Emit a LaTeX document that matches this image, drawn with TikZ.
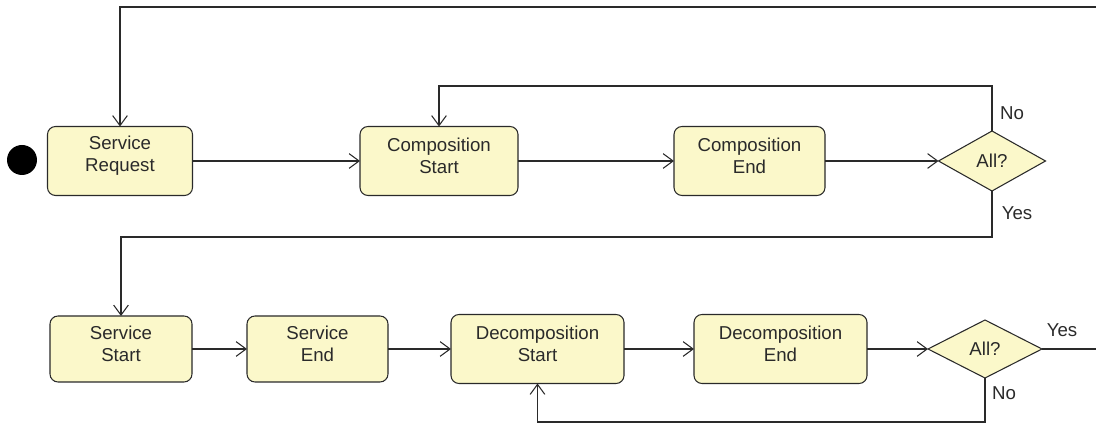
\documentclass[tikz,border=0pt]{standalone}
\usepackage{fontspec}
\setmainfont{Liberation Sans}
\usetikzlibrary{arrows.meta,shapes.geometric}
\definecolor{boxfill}{HTML}{FBF8CA}
\definecolor{ink}{HTML}{2A2A2A}
\begin{document}
\begin{tikzpicture}[x=0.75pt,y=-0.75pt,
  every node/.style={font=\fontsize{14}{16}\selectfont, text=ink},
  state/.style={draw=ink, line width=0.8pt, fill=boxfill, rounded corners=6pt,
    minimum height=51.75pt, inner sep=0pt, outer sep=0pt},
  % the caption of a state sits slightly above the box centre
  caption/.style={label={[align=center, yshift=4pt, inner sep=0pt]center:#1}},
  choice/.style={draw=ink, line width=0.8pt, fill=boxfill, diamond,
    inner sep=0pt, outer sep=0pt},
  flow/.style={draw=ink, line width=0.8pt, -{Straight Barb[length=7.5pt,width=11pt]}},
  plain/.style={draw=ink, line width=0.8pt},
  lbl/.style={inner sep=0pt}]
  \useasboundingbox (0,0) rectangle (1096,423);

  % start marker
  \node[circle, fill=black, minimum size=22.5pt, inner sep=0pt] (init) at (22,160) {};

  % composition row
  \node[state, minimum width=108.75pt, caption={Service\\Request}]   (sreq)   at (120,161)   {};
  \node[state, minimum width=118.5pt,  caption={Composition\\Start}] (cstart) at (439,161)   {};
  \node[state, minimum width=113.25pt, caption={Composition\\End}]   (cend)   at (749.5,161) {};
  \node[choice, minimum width=80.25pt, minimum height=45pt] (d1) at (992,161) {All?};

  % service / decomposition row
  \node[state, minimum width=106.5pt, minimum height=49.5pt, caption={Service\\Start}] (sstart) at (121,349)   {};
  \node[state, minimum width=105.75pt, minimum height=49.5pt, caption={Service\\End}]  (send)   at (317.5,349) {};
  \node[state, minimum width=129.75pt, caption={Decomposition\\Start}] (dstart) at (537.5,349) {};
  \node[state, minimum width=129.75pt, caption={Decomposition\\End}]   (dend)   at (780.5,349) {};
  \node[choice, minimum width=85.5pt, minimum height=43.5pt] (d2) at (985,349) {All?};

  % routing points
  \coordinate (inR)   at (1096,7);
  \coordinate (loopC) at (437,86);
  \coordinate (yesC)  at (120,237);
  \coordinate (loopD) at (538,422);
  \coordinate (outR)  at (1096,349);

  % connectors
  \draw[flow] (inR) -| (sreq.north);
  \draw[flow] (sreq) -- (cstart);
  \draw[flow] (cstart) -- (cend);
  \draw[flow] (cend) -- (d1);
  \draw[flow] (d1.north) -- (d1.north |- loopC) -| (cstart.north);
  \draw[flow] (d1.south) -- (d1.south |- yesC) -| (sstart.north);

  \draw[flow] (sstart) -- (send);
  \draw[flow] (send) -- (dstart);
  \draw[flow] (dstart) -- (dend);
  \draw[flow] (dend) -- (d2);
  \draw[flow] (d2.south) -- (d2.south |- loopD) -| (dstart.south);
  \draw[plain] (d2.east) -- (outR);

  % guard labels
  \node[lbl] (no1)  at (1012,113) {No};
  \node[lbl] (yes1) at (1017,213) {Yes};
  \node[lbl] (yes2) at (1062,330) {Yes};
  \node[lbl] (no2)  at (1004,393) {No};
\end{tikzpicture}
\end{document}
